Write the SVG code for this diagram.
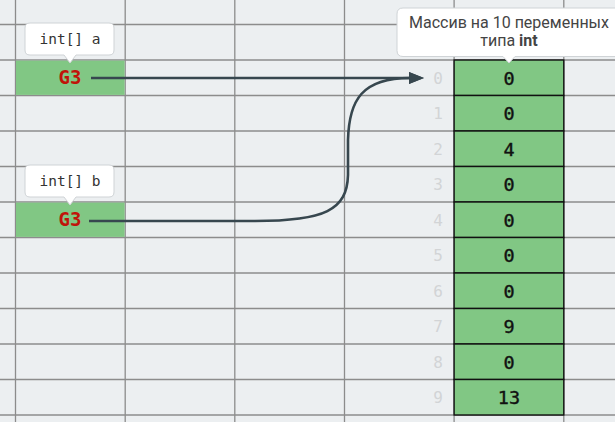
<svg xmlns="http://www.w3.org/2000/svg" width="615" height="422" viewBox="0 0 615 422">
<style>
.grid line{stroke:#8c8c8c;stroke-width:1.3}
.cell{fill:#81c784;stroke:#111;stroke-width:1.4}
.ref{fill:#81c784}
.val{font-family:"DejaVu Sans Mono",monospace;font-size:18.5px;fill:#111;stroke:#111;stroke-width:0.4;text-anchor:middle}
.idx{font-family:"DejaVu Sans Mono",monospace;font-size:16px;fill:#d2d4d6;text-anchor:middle}
.g3{font-family:"DejaVu Sans Mono",monospace;font-size:19px;font-weight:bold;fill:#c0140a;text-anchor:middle}
.tip{fill:#fff;stroke:#cfd3d6;stroke-width:1}
.lbl{font-family:"DejaVu Sans Mono",monospace;font-size:14.5px;fill:#333;text-anchor:middle}
.note{font-family:Roboto,"Liberation Sans",sans-serif;font-size:16px;fill:#444;text-anchor:middle}
.conn{fill:none;stroke:#37474f;stroke-width:2.6}
</style>
<defs>
<marker id="ah" viewBox="0 0 15 12" markerWidth="15" markerHeight="12" markerUnits="userSpaceOnUse" refX="1" refY="6" orient="auto">
<path d="M0,0 L15,6 L0,12 z" fill="#37474f"/>
</marker>
</defs>
<rect width="615" height="422" fill="#eceff1"/>
<g class="grid">
<line x1="15.5" y1="0" x2="15.5" y2="422"/>
<line x1="125.2" y1="0" x2="125.2" y2="422"/>
<line x1="234.8" y1="0" x2="234.8" y2="422"/>
<line x1="344.5" y1="0" x2="344.5" y2="422"/>
<line x1="454.1" y1="0" x2="454.1" y2="422"/>
<line x1="563.8" y1="0" x2="563.8" y2="422"/>
<line x1="0" y1="24.5" x2="615" y2="24.5"/>
<line x1="0" y1="60" x2="615" y2="60"/>
<line x1="0" y1="95.5" x2="615" y2="95.5"/>
<line x1="0" y1="131" x2="615" y2="131"/>
<line x1="0" y1="166.5" x2="615" y2="166.5"/>
<line x1="0" y1="202" x2="615" y2="202"/>
<line x1="0" y1="237.5" x2="615" y2="237.5"/>
<line x1="0" y1="273" x2="615" y2="273"/>
<line x1="0" y1="308.5" x2="615" y2="308.5"/>
<line x1="0" y1="344" x2="615" y2="344"/>
<line x1="0" y1="379.5" x2="615" y2="379.5"/>
<line x1="0" y1="415" x2="615" y2="415"/>
</g>
<g id="array">
<rect class="cell" x="454.1" y="60" width="109.7" height="35.5"/>
<rect class="cell" x="454.1" y="95.5" width="109.7" height="35.5"/>
<rect class="cell" x="454.1" y="131" width="109.7" height="35.5"/>
<rect class="cell" x="454.1" y="166.5" width="109.7" height="35.5"/>
<rect class="cell" x="454.1" y="202" width="109.7" height="35.5"/>
<rect class="cell" x="454.1" y="237.5" width="109.7" height="35.5"/>
<rect class="cell" x="454.1" y="273" width="109.7" height="35.5"/>
<rect class="cell" x="454.1" y="308.5" width="109.7" height="35.5"/>
<rect class="cell" x="454.1" y="344" width="109.7" height="35.5"/>
<rect class="cell" x="454.1" y="379.5" width="109.7" height="35.5"/>
<text class="val" x="509" y="84.5">0</text>
<text class="val" x="509" y="120">0</text>
<text class="val" x="509" y="155.5">4</text>
<text class="val" x="509" y="191">0</text>
<text class="val" x="509" y="226.5">0</text>
<text class="val" x="509" y="262">0</text>
<text class="val" x="509" y="297.5">0</text>
<text class="val" x="509" y="333">9</text>
<text class="val" x="509" y="368.5">0</text>
<text class="val" x="509" y="404">13</text>
<text class="idx" x="438" y="83.5">0</text>
<text class="idx" x="438" y="119">1</text>
<text class="idx" x="438" y="154.5">2</text>
<text class="idx" x="438" y="190">3</text>
<text class="idx" x="438" y="225.5">4</text>
<text class="idx" x="438" y="261">5</text>
<text class="idx" x="438" y="296.5">6</text>
<text class="idx" x="438" y="332">7</text>
<text class="idx" x="438" y="367.5">8</text>
<text class="idx" x="438" y="403">9</text>
</g>
<g id="ref-a">
<rect class="ref" x="16" y="60.6" width="108.6" height="34.3"/>
<text class="g3" x="70" y="84">G3</text>
</g>
<g id="ref-b">
<rect class="ref" x="16" y="202.6" width="108.6" height="34.3"/>
<text class="g3" x="70" y="226">G3</text>
</g>
<g id="connectors">
<path class="conn" d="M91 78 L410 78" marker-end="url(#ah)"/>
<path class="conn" d="M89 221 L255 221 C325 221 347 210 348 175 L348 140 C349 100 362 78 410 78" marker-end="url(#ah)"/>
</g>
<g id="label-a">
<path class="tip" d="M30 23 H109 Q114 23 114 28 V50 Q114 55 109 55 H76 L70 63 L64 55 H30 Q25 55 25 50 V28 Q25 23 30 23 Z"/>
<text class="lbl" x="70" y="44">int[] a</text>
</g>
<g id="label-b">
<path class="tip" d="M30 165 H109 Q114 165 114 170 V192 Q114 197 109 197 H76 L70 205 L64 197 H30 Q25 197 25 192 V170 Q25 165 30 165 Z"/>
<text class="lbl" x="70" y="186">int[] b</text>
</g>
<g id="note">
<path class="tip" d="M403 8 H625 V56.5 H515 L509 63 L503 56.5 H403 Q397 56.5 397 50.5 V14 Q397 8 403 8 Z"/>
<text class="note" x="509" y="27.5">Массив на 10 переменных</text>
<text class="note" x="509" y="46">типа <tspan font-weight="bold">int</tspan></text>
</g>
</svg>
